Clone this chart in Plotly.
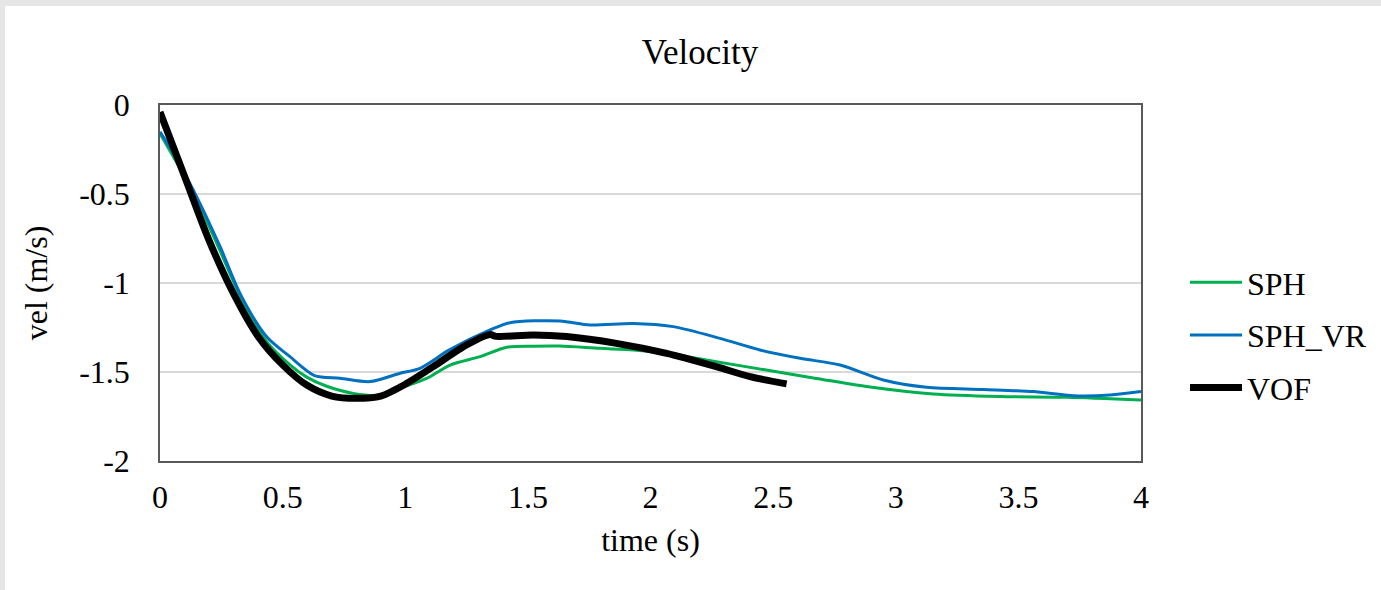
import plotly.graph_objects as go

# Time (s) and velocity (m/s) samples for each model
sph_t = [0, 0.05, 0.136, 0.245, 0.326, 0.435, 0.53, 0.6, 0.68, 0.788, 0.897, 0.979,
         1.087, 1.183, 1.305, 1.414, 1.52, 1.631, 1.794, 1.93, 2.066, 2.268, 2.472,
         2.676, 2.88, 3.153, 3.425, 3.697, 4.0]
sph_v = [-0.16, -0.28, -0.49, -0.82, -1.07, -1.33, -1.46, -1.53, -1.58, -1.62, -1.63, -1.59,
         -1.536, -1.461, -1.414, -1.361, -1.355, -1.354, -1.367, -1.376, -1.395, -1.442, -1.489,
         -1.536, -1.582, -1.624, -1.638, -1.642, -1.657]

vr_t = [0, 0.05, 0.136, 0.245, 0.326, 0.435, 0.53, 0.63, 0.734, 0.856, 0.979, 1.06,
        1.18, 1.346, 1.427, 1.631, 1.753, 1.93, 2.093, 2.283, 2.446, 2.61, 2.773,
        2.949, 3.126, 3.357, 3.561, 3.725, 3.874, 4.0]
vr_v = [-0.15, -0.26, -0.478, -0.796, -1.058, -1.302, -1.414, -1.52, -1.535, -1.554, -1.507, -1.479,
        -1.376, -1.264, -1.223, -1.213, -1.236, -1.227, -1.245, -1.311, -1.376, -1.423, -1.461,
        -1.545, -1.586, -1.598, -1.61, -1.633, -1.629, -1.61]

vof_t = [0, 0.1, 0.2, 0.3, 0.4, 0.5, 0.6, 0.7, 0.8, 0.9, 1.006, 1.114,
         1.25, 1.346, 1.37, 1.522, 1.658, 1.861, 2.066, 2.268, 2.406, 2.555]
vof_v = [-0.04, -0.40, -0.76, -1.06, -1.30, -1.46, -1.575, -1.635, -1.648, -1.635, -1.564, -1.47,
         -1.348, -1.29, -1.30, -1.292, -1.301, -1.339, -1.395, -1.47, -1.526, -1.567]

x_ticks = [0, 0.5, 1, 1.5, 2, 2.5, 3, 3.5, 4]
x_tick_text = ["0", "0.5", "1", "1.5", "2", "2.5", "3", "3.5", "4"]
y_ticks = [0, -0.5, -1, -1.5, -2]
y_tick_text = ["0", "-0.5", "-1", "-1.5", "-2"]

FONT = "Liberation Serif, Times New Roman, serif"
W, H = 1381, 590
L, R, T, B = 160, 240, 105, 129

fig = go.Figure()
fig.add_trace(go.Scatter(x=sph_t, y=sph_v, name="SPH", mode="lines", legendgroup="a",
                         line=dict(color="#00b050", width=3, shape="spline", smoothing=0.8)))
fig.add_trace(go.Scatter(x=vr_t, y=vr_v, name="SPH_VR", mode="lines", legendgroup="b",
                         line=dict(color="#0070c0", width=3, shape="spline", smoothing=0.8)))
fig.add_trace(go.Scatter(x=vof_t, y=vof_v, name="VOF", mode="lines", legendgroup="c",
                         line=dict(color="#000000", width=7, shape="spline", smoothing=0.8)))

# grey frame along the top and left edges of the page
pw = W - L - R
ph = H - T - B
fig.add_shape(type="rect", xref="paper", yref="paper", layer="below",
              x0=-L / pw, x1=(W - L) / pw, y0=1 + (T - 6) / ph, y1=1 + T / ph,
              fillcolor="#e6e6e6", line_width=0)
fig.add_shape(type="rect", xref="paper", yref="paper", layer="below",
              x0=-L / pw, x1=(5 - L) / pw, y0=-B / ph, y1=1 + T / ph,
              fillcolor="#e6e6e6", line_width=0)

fig.update_layout(
    width=W, height=H,
    margin=dict(l=L, r=R, t=T, b=B, autoexpand=False),
    paper_bgcolor="white", plot_bgcolor="white",
    font=dict(family=FONT, size=32, color="#000000"),
    title=dict(text="Velocity", x=700 / W, xanchor="center",
               y=1 - 52 / H, yanchor="middle", yref="container",
               font=dict(family=FONT, size=35, color="#000000")),
    showlegend=True,
    legend=dict(x=(1185 - L) / pw, xanchor="left", y=1 - (335 - T) / ph, yanchor="middle",
                font=dict(family=FONT, size=32, color="#000000"),
                tracegroupgap=8, itemwidth=52, bgcolor="rgba(0,0,0,0)"),
    xaxis=dict(range=[0, 4], tickvals=x_ticks, ticktext=x_tick_text,
               showgrid=False, zeroline=False,
               showline=True, linecolor="#595959", linewidth=1.5, mirror=True,
               ticks="outside", ticklen=7, tickcolor="rgba(0,0,0,0)",
               title=dict(text="time (s)", standoff=14,
                          font=dict(family=FONT, size=32))),
    yaxis=dict(range=[-2, 0], tickvals=y_ticks, ticktext=y_tick_text,
               showgrid=True, gridcolor="#d9d9d9", gridwidth=1.5, zeroline=False,
               showline=True, linecolor="#595959", linewidth=1.5, mirror=True,
               ticks="outside", ticklen=22, tickcolor="rgba(0,0,0,0)",
               title=dict(text="vel (m/s)", standoff=22,
                          font=dict(family=FONT, size=32))),
)

fig.write_html("out.html")
